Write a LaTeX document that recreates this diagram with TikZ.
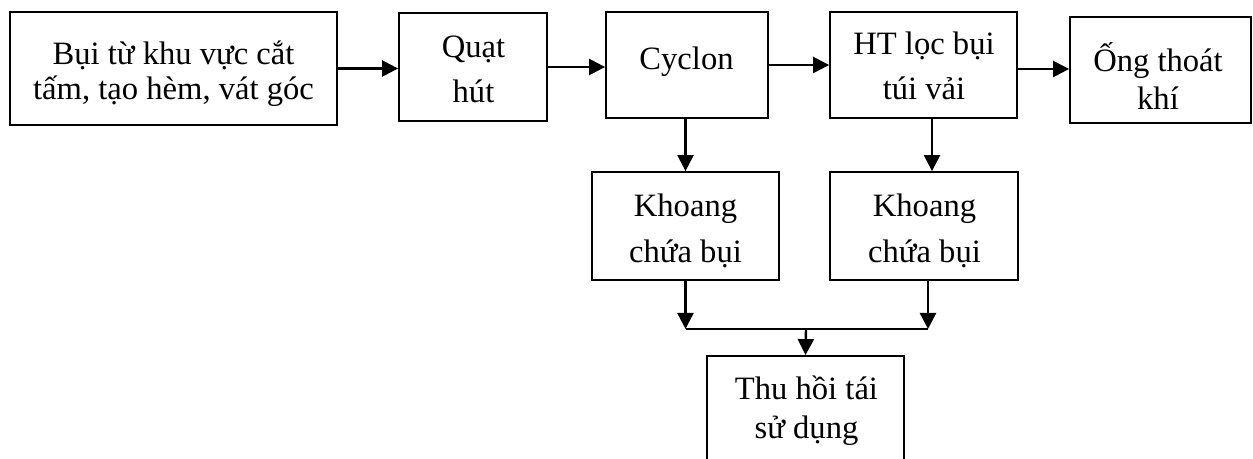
\documentclass[tikz,border=0pt]{standalone}
\usepackage{fontspec}
\setmainfont{Liberation Serif}
\usetikzlibrary{arrows.meta}
\begin{document}
\begin{tikzpicture}[x=0.5pt,y=-0.5pt,
  box/.style={draw, line width=0.9pt, inner sep=0pt},
  txt/.style={anchor=base, inner sep=0pt, font=\fontsize{16.3pt}{18pt}\selectfont},
  conn/.style={line width=1.2pt},
  arr/.style={line width=1.2pt, -{Triangle[length=8pt,width=8pt]}}]
\useasboundingbox (0,0) rectangle (1253,459);
\clip (0,0) rectangle (1253,459);
% boxes
\node[box, minimum width=163.5pt, minimum height=56.5pt] (b1) at (173.5,68.5) {};
\node[box, minimum width=74pt, minimum height=54pt] (b2) at (473,67) {};
\node[box, minimum width=81pt, minimum height=53pt] (b3) at (687,65) {};
\node[box, minimum width=93.5pt, minimum height=53pt] (b4) at (923.5,65) {};
\node[box, minimum width=90.5pt, minimum height=53pt] (b5) at (1160.5,70) {};
\node[box, minimum width=93.5pt, minimum height=54pt] (b6) at (685.5,226) {};
\node[box, minimum width=94pt, minimum height=54pt] (b7) at (924,226) {};
\node[box, minimum width=98.5pt, minimum height=72pt] (b8) at (805.5,428) {};
% texts
\node[txt] (t1a) at (173.5,65) {Bụi từ khu vực cắt};
\node[txt] (t1b) at (173.5,100) {tấm, tạo hèm, vát góc};
\node[txt] (t2a) at (473.5,58) {Quạt};
\node[txt] (t2b) at (473.5,103) {hút};
\node[txt] (t3a) at (686.5,70) {Cyclon};
\node[txt] (t4a) at (924,55) {HT lọc bụi};
\node[txt] (t4b) at (924,100) {túi vải};
\node[txt] (t5a) at (1158,72) {Ống thoát};
\node[txt] (t5b) at (1158,110) {khí};
\node[txt] (t6a) at (685.5,217) {Khoang};
\node[txt] (t6b) at (685.5,263) {chứa bụi};
\node[txt] (t7a) at (924.5,217) {Khoang};
\node[txt] (t7b) at (924.5,263) {chứa bụi};
\node[txt] (t8a) at (806.5,400) {Thu hồi tái};
\node[txt] (t8b) at (806.5,439) {sử dụng};
% helper coordinates
\coordinate (y69) at (0,69);
\coordinate (x932) at (932,0);
\coordinate (jl) at (685.5,329);
\coordinate (jr) at (928,329);
\coordinate (jm) at (806,329);
% connectors
\draw[arr] (b1.east) -- (b1.east -| b2.west);
\draw[arr] (b2.east) -- (b2.east -| b3.west);
\draw[arr] (b3.east) -- (b3.east -| b4.west);
\draw[arr] (b4.east |- y69) -- (b5.west |- y69);
\draw[arr] (b3.south -| b6.north) -- (b6.north);
\draw[arr] (b4.south -| x932) -- (b7.north -| x932);
\draw[arr] (b6.south) -- (jl);
\draw[arr] (b7.south -| jr) -- (jr);
\draw[conn] (jl) -- (jr);
\draw[arr] (jm) -- (b8.north);
\end{tikzpicture}
\end{document}
